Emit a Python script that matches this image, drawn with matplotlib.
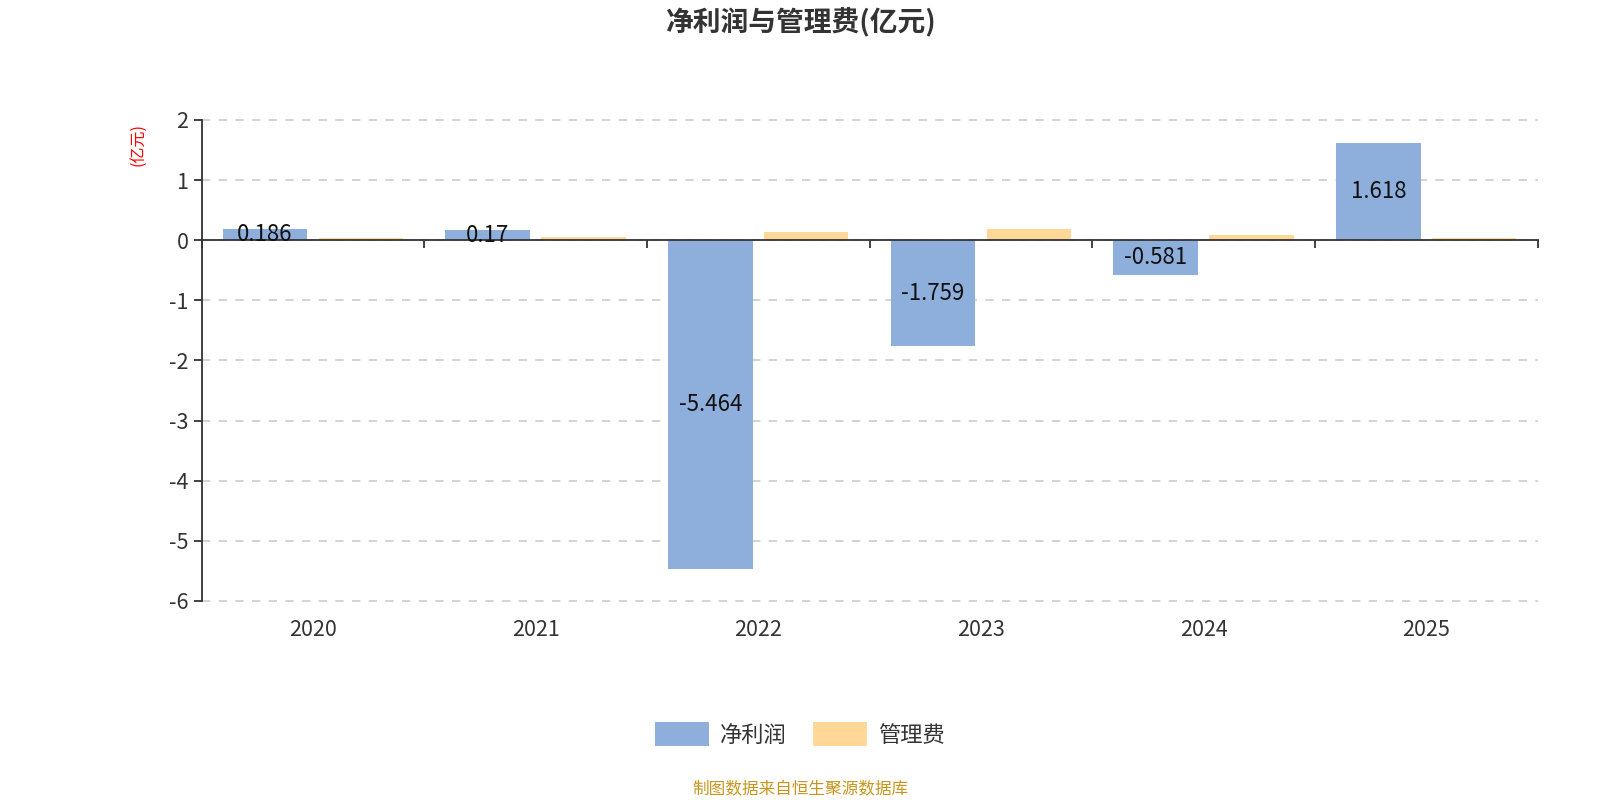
# -*- coding: utf-8 -*-
# 净利润与管理费(亿元) 柱状图
import numpy as np
import matplotlib
matplotlib.use('Agg')
import matplotlib.pyplot as plt
from matplotlib.transforms import blended_transform_factory

plt.rcParams['font.family'] = ['Noto Sans CJK SC', 'DejaVu Sans']
plt.rcParams['axes.unicode_minus'] = False

# 数据
years = ['2020', '2021', '2022', '2023', '2024', '2025']
net_profit = [0.186, 0.17, -5.464, -1.759, -0.581, 1.618]
admin_fee = [0.03, 0.055, 0.14, 0.19, 0.085, 0.04]
profit_labels = ['0.186', '0.17', '-5.464', '-1.759', '-0.581', '1.618']

c_profit = '#8EAEDB'
c_fee = '#FFD898'

fig = plt.figure(figsize=(16, 8), dpi=100)
ax = fig.add_axes([0.126, 0.249, 0.835, 0.601])

x = np.arange(len(years))
w = 0.38
off = 0.215
ax.bar(x - off, net_profit, w, color=c_profit, linewidth=0, zorder=2)
ax.bar(x + off, admin_fee, w, color=c_fee, linewidth=0, zorder=2)

# 柱内数值标签
for xi, v, s in zip(x, net_profit, profit_labels):
    ax.text(xi - off, v / 2, s, ha='center', va='center', fontsize=16,
            color='#111111', zorder=3)

ax.set_xlim(-0.5, len(years) - 0.5)
ax.set_ylim(-6, 2)
ax.set_yticks(np.arange(-6, 3, 1))
ax.set_yticklabels([str(v) for v in range(-6, 3)])
ax.yaxis.grid(True, linestyle=(0, (5, 5)), color='#cccccc', linewidth=1.2)
for gl in ax.get_ygridlines():
    gl.set_clip_on(False)
ax.set_axisbelow(True)

# 坐标轴样式
for s in ['top', 'right']:
    ax.spines[s].set_visible(False)
ax.spines['bottom'].set_position(('data', 0))
ax.spines['bottom'].set_color('#333333')
ax.spines['bottom'].set_linewidth(1.3)
ax.spines['left'].set_color('#333333')
ax.spines['left'].set_linewidth(1.3)
ax.set_xticks(np.arange(-0.5, len(years), 1))
ax.set_xticklabels([])
ax.tick_params(axis='x', length=6, width=1.3, color='#333333', direction='out')
ax.tick_params(axis='y', length=6, width=1.3, color='#333333',
               labelsize=15.5, labelcolor='#333333')

trans = blended_transform_factory(ax.transData, ax.transAxes)
for xi, y in zip(x, years):
    ax.text(xi, -0.06, y, transform=trans, ha='center', va='center',
            fontsize=15.5, color='#333333')

# 标题与单位
fig.text(0.5, 0.972, '净利润与管理费(亿元)', ha='center', va='center',
         fontsize=20, fontweight='bold', color='#333333')
fig.text(0.086, 0.82, '(亿元)', ha='center', va='center', rotation=90,
         fontsize=11.5, color='red')

# 图例
leg = fig.legend(['净利润', '管理费'], loc='center', ncol=2,
                 bbox_to_anchor=(0.5, 0.082), frameon=False, fontsize=16,
                 handlelength=2.4, handleheight=1.3, columnspacing=1.2,
                 handletextpad=0.5, labelcolor='#333333')
for h, c in zip(leg.legend_handles, [c_profit, c_fee]):
    h.set_color(c)

fig.text(0.5, 0.013, '制图数据来自恒生聚源数据库', ha='center', va='center',
         fontsize=12, color='#C8961E')

fig.savefig('out.png', dpi=100)
